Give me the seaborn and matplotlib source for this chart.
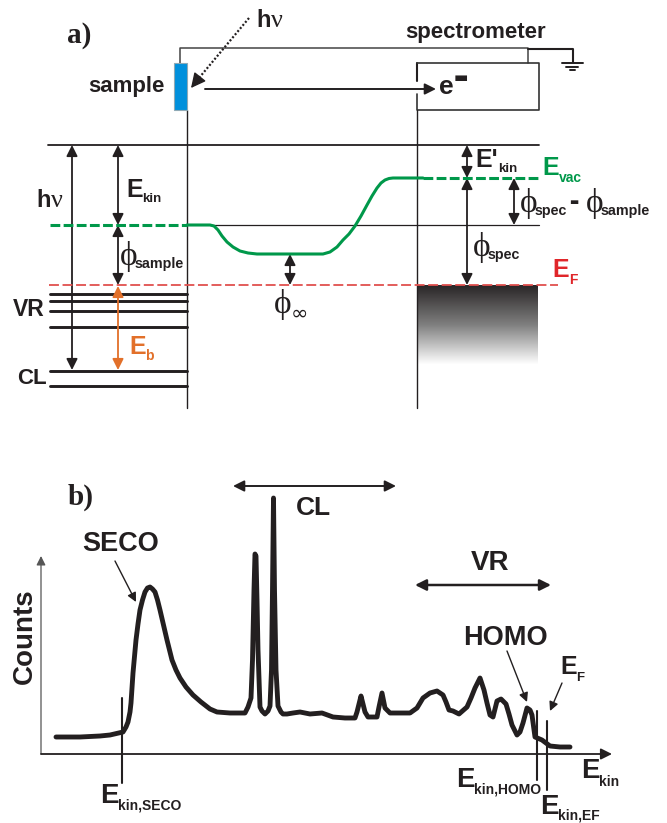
import numpy as np
import matplotlib
matplotlib.use("Agg")
import matplotlib.pyplot as plt
import seaborn as sns
from matplotlib.colors import LinearSegmentedColormap
from matplotlib.patches import Rectangle

# spectrum (image pixels)
spectrum_x = [56, 80, 100, 110, 123, 126, 128, 130, 131, 133, 136, 138, 140, 142.5, 145, 147.5, 150, 152.5, 155,
              157.5, 160, 163.5, 167, 172, 176, 180, 186, 193, 201, 210, 217, 230, 238, 245, 248, 251, 252.5, 254,
              255, 256, 257, 258, 260, 262, 265, 268, 270, 271.5, 272.5, 273.5, 274.5, 276, 278, 281, 283,
              287, 293, 300, 310, 322, 333, 345, 355, 357, 359, 361, 363, 365, 368, 377, 379, 382, 385,
              390, 400, 410, 417, 423, 430, 437, 443, 446, 449, 453, 459, 467, 471, 475, 480, 484, 487,
              490, 493, 497, 501, 506, 509, 512, 517, 520, 523, 527, 530, 532, 535,
              542, 550, 560, 570]
spectrum_counts = [737, 737, 736, 735, 732, 727, 722, 712, 703, 673, 640, 624, 610, 600, 592, 588, 587, 589, 592,
                   600, 610, 625, 640, 660, 670, 678, 687, 695, 702, 709, 712, 713, 713, 713, 707, 698, 660, 590,
                   554, 556, 600, 650, 707, 711, 714, 711, 706, 670, 590, 498, 590, 670, 706, 712, 714,
                   714, 713, 712, 714, 713, 717, 718, 718, 712, 704, 696, 704, 712, 717, 717, 707, 693, 708,
                   713, 713, 713, 708, 698, 693, 691, 695, 702, 710, 711, 714, 707, 698, 688, 678, 690, 703,
                   715, 717, 701, 699, 704, 714, 725, 735, 732, 723, 708, 710, 715, 737,
                   740, 746, 747, 747]

# vacuum level between sample and spectrometer, panel a
vac_x = [187, 210, 214, 218, 222, 227, 233, 240, 248, 257, 323, 330, 337, 343, 349, 355, 361, 367, 372,
         377, 381, 385, 389, 393, 423]
vac_y = [225, 225, 226, 230, 236, 242, 247, 251, 253, 254, 254, 252, 247, 240, 234, 226, 216, 205, 196,
         188, 183, 180, 178.5, 178, 178]

vr_levels = [294, 301, 311, 327]
cl_levels = [371, 386]
y_top = 145
y_sample_vac = 225
y_spec_vac = 178
y_fermi = 285
peak_ticks = [(122, 698, 783), (537, 711, 780), (547, 721, 790)]

BLACK = "#231f20"
GREEN = "#00984a"
RED = "#e0504e"
RED_TXT = "#e0262a"
ORANGE = "#e2702a"
SANS = "Liberation Sans"
SERIF = "Liberation Serif"


def arrow(ax, p0, p1, color=BLACK, style="<|-|>", lw=1.3, ms=11, **kw):
    ax.annotate("", xy=p1, xytext=p0, annotation_clip=False,
                arrowprops=dict(arrowstyle=f"{style},head_length=0.6,head_width=0.3", color=color, lw=lw,
                                mutation_scale=ms, shrinkA=0, shrinkB=0, **kw))


def lab(ax, x, y, s, size=18, color=BLACK, family=SANS, weight="bold", **kw):
    ax.text(x, y, s, fontsize=size, color=color, family=family, weight=weight,
            ha=kw.pop("ha", "left"), va=kw.pop("va", "center"), **kw)


def sub_label(ax, x, y, s, sub, dx=16, dy=9, color=BLACK, size=18, sub_size=10):
    lab(ax, x, y, s, size=size, color=color)
    lab(ax, x + dx, y + dy, sub, size=sub_size, color=color)


def phi_label(ax, x, y, sub, dx=15, dy=8, sub_size=10.3):
    lab(ax, x, y, "\u03d5", size=24, family=SERIF, weight="normal")
    lab(ax, x + dx, y + dy, sub, size=sub_size)


def hnu(ax, x, y):
    lab(ax, x, y, "h", size=17, va="baseline")
    lab(ax, x + 15, y, "\u03bd", size=19, family=SERIF, weight="normal", va="baseline")


sns.set_theme(style="white")
fig = plt.figure(figsize=(6.67, 8.23), dpi=100)
ax = fig.add_axes([0, 0, 1, 1])
ax.set_xlim(0, 667)
ax.set_ylim(823, 0)
ax.axis("off")

# ---- panel a: setup on top
lab(ax, 67, 35, "a)", size=21, family=SERIF)
lab(ax, 405, 32, "spectrometer", size=16)
lab(ax, 88, 86, "sample", size=16)
hnu(ax, 256, 27)

ax.plot([180, 180, 528, 528], [63, 48, 48, 63], color="#444444", lw=1.1)
ax.plot([528, 573, 573], [49, 49, 62], color=BLACK, lw=1.5)
ax.plot([562, 583], [62.5, 62.5], color=BLACK, lw=1.4)
ax.plot([566, 578], [66.5, 66.5], color=BLACK, lw=1.4)
ax.plot([570, 575], [70, 70], color=BLACK, lw=1.4)

ax.add_patch(Rectangle((173.5, 63), 13.5, 47, fc="#0090dc", ec="#8fa9b5", lw=0.8, zorder=3))
ax.plot([417, 417], [81, 63], color=BLACK, lw=1.5)
ax.plot([417, 539, 539, 417, 417], [63, 63, 110, 110, 94], color="#333333", lw=1.2)
# dotted photon path, head drawn on its own so it stays solid
ax.plot([249, 199], [18, 78], color=BLACK, lw=1.6, dashes=(0.9, 0.9), dash_capstyle="butt")
arrow(ax, (199, 78), (191, 88), style="-|>", lw=1.0, ms=15)
arrow(ax, (205, 89), (436, 89), style="-|>", lw=1.4, ms=11)
lab(ax, 439, 87, "e", size=19)
lab(ax, 454, 77, "\u25ac", size=11, family="DejaVu Sans", weight="normal")

# ---- panel a: energy levels
ax.plot([48, 539], [y_top, y_top], color=BLACK, lw=1.3)
ax.plot([210, 539], [y_sample_vac, y_sample_vac], color=BLACK, lw=0.9)
for xv in [187, 417]:
    ax.plot([xv, xv], [110, 408], color=BLACK, lw=1.0)
for lv in vr_levels + cl_levels:
    ax.plot([50, 187], [lv, lv], color=BLACK, lw=2.1)

grad = np.linspace(0, 1, 80).reshape(-1, 1)
gray_cmap = LinearSegmentedColormap.from_list("band", ["#2a2627", "#808080", "#ffffff"])
ax.imshow(grad, cmap=gray_cmap, extent=(417.5, 537, 365, 286), aspect="auto", zorder=1)
ax.set_xlim(0, 667)
ax.set_ylim(823, 0)

ax.plot([49, 558], [y_fermi, y_fermi], color=RED, lw=1.3, dashes=(5.5, 2), zorder=4)
ax.plot([50, 187], [y_sample_vac, y_sample_vac], color=GREEN, lw=2.2, dashes=(3.2, 1.1), zorder=4)
ax.plot([423, 540], [y_spec_vac, y_spec_vac], color=GREEN, lw=2.2, dashes=(3.2, 1.1), zorder=4)
sns.lineplot(x=vac_x, y=vac_y, ax=ax, color=GREEN, lw=2.2, estimator=None, sort=False, zorder=4)
ax.set_xlabel("")
ax.set_ylabel("")

arrow(ax, (72, y_top), (72, 370))
arrow(ax, (118, y_top), (118, y_sample_vac))
arrow(ax, (118, y_sample_vac), (118, y_fermi))
arrow(ax, (118, 286), (118, 370), color=ORANGE)
arrow(ax, (290, 254), (290, y_fermi))
arrow(ax, (467, y_top), (467, y_spec_vac))
arrow(ax, (467, y_spec_vac), (467, y_fermi))
arrow(ax, (514, y_spec_vac), (514, y_sample_vac))

hnu(ax, 36, 207)
sub_label(ax, 126, 190, "E", "kin", dx=16, dy=9, sub_size=9.5)
phi_label(ax, 120, 256, "sample")
lab(ax, 13, 310, "VR", size=16.5)
lab(ax, 17, 378, "CL", size=16)
sub_label(ax, 129, 347, "E", "b", dx=16, dy=9, color=ORANGE, sub_size=10)
lab(ax, 274, 305, "\u03d5", size=24, family=SERIF, weight="normal")
lab(ax, 291, 314, "\u221e", size=15, family="DejaVu Sans", weight="normal")
sub_label(ax, 475, 160, "E'", "kin", dx=23, dy=9, sub_size=9.5)
sub_label(ax, 542, 168, "E", "vac", dx=17, dy=10, color=GREEN, sub_size=10)
phi_label(ax, 520, 203, "spec")
lab(ax, 569, 202, "\u25ac", size=7, family="DejaVu Sans", weight="normal")
phi_label(ax, 586, 203, "sample")
phi_label(ax, 473, 247, "spec")
sub_label(ax, 552, 270, "E", "F", dx=17, dy=10, color=RED_TXT, sub_size=10)

# ---- panel b: spectrum
lab(ax, 68, 497, "b)", size=21, family=SERIF)
arrow(ax, (41, 754), (41, 556), style="-|>", lw=0.9, ms=9, color="#555555")
arrow(ax, (41, 754), (612, 754), style="-|>", lw=1.3, ms=11)
sns.lineplot(x=spectrum_x, y=spectrum_counts, ax=ax, color=BLACK, lw=3.5, estimator=None, sort=False,
             zorder=3, solid_joinstyle="round")
ax.set_xlabel("")
ax.set_ylabel("")
for xv, y0, y1 in peak_ticks:
    ax.plot([xv, xv], [y0, y1], color=BLACK, lw=1.5, zorder=4)

arrow(ax, (233, 486), (396, 486), lw=1.4, ms=11)
arrow(ax, (415, 585), (551, 585), lw=1.8, ms=11)
lab(ax, 296, 508, "CL", size=19)
lab(ax, 471, 563, "VR", size=20)
lab(ax, 82, 544, "SECO", size=19.5)
lab(ax, 463, 638, "HOMO", size=19.5)
lab(ax, 25, 636, "Counts", size=20, rotation=90, ha="center")
arrow(ax, (115, 561), (136, 602), style="-|>", lw=1.0, ms=9)
arrow(ax, (507, 651), (527, 702), style="-|>", lw=1.0, ms=9)
arrow(ax, (562, 683), (550, 711), style="-|>", lw=1.0, ms=9)

sub_label(ax, 560, 667, "E", "F", dx=16, dy=11, sub_size=9.5)
sub_label(ax, 100, 796, "E", "kin,SECO", dx=18, dy=10, size=20, sub_size=10)
sub_label(ax, 456, 780, "E", "kin,HOMO", dx=18, dy=10, size=20, sub_size=10)
sub_label(ax, 540, 807, "E", "kin,EF", dx=18, dy=8, size=20, sub_size=10)
sub_label(ax, 581, 771, "E", "kin", dx=18, dy=11, size=20, sub_size=10)

fig.savefig("out.png", dpi=100)
plt.close(fig)
